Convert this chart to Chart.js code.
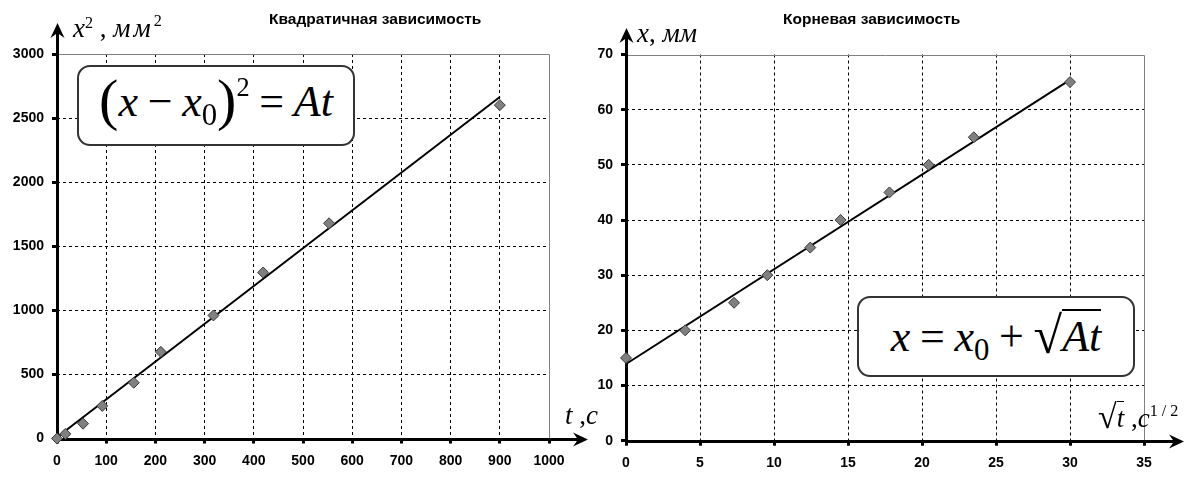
<!DOCTYPE html>
<html lang="ru">
<head>
<meta charset="utf-8">
<title>Квадратичная и корневая зависимость</title>
<script src="https://cdn.jsdelivr.net/npm/chart.js@4.4.0/dist/chart.umd.min.js"></script>
<style>
  html, body { margin: 0; padding: 0; background: #fff; }
  #page { position: relative; width: 1201px; height: 483px; overflow: hidden; }
  .panel { position: absolute; top: 0; height: 483px; }
  .title { position: absolute; font: bold 15.5px "Liberation Sans", Arial, sans-serif; line-height: 18px; white-space: nowrap; color: #000; }
  .lbl { position: absolute; font-family: "Liberation Serif", "Times New Roman", serif; font-size: 27px; line-height: 27px; white-space: nowrap; }
  .sup { position: relative; top: -0.55em; font-size: 0.6em; font-style: normal; }
  .sub { position: relative; top: 0.3em; font-size: 0.7em; font-style: normal; }
  .wide { letter-spacing: 3px; }
  .formula { position: absolute; box-sizing: border-box; width: 278px; height: 81px; border: 2px solid #333; border-radius: 13px; background: #fff;
             font-family: "Liberation Serif", "Times New Roman", serif; font-size: 44px; line-height: 44px; white-space: nowrap; text-align: center; }
  .op { margin: 0 0.22em; }
  .big { font-size: 58px; line-height: 0; position: relative; top: 3px; }
  .rad { font-size: 52px; line-height: 0; position: relative; top: 2px; }
  .ol { border-top: 2px solid #000; padding-top: 1px; }
  .lbl .rad { font-size: 34px; top: 1px; }
  .lbl .ol { border-top-width: 1px; padding-top: 1px; }
</style>
</head>
<body>
<div id="page">
  <div class="panel" style="left:0;width:600px"><canvas id="quadChart"></canvas></div>
  <div class="panel" style="left:580px;width:621px"><canvas id="rootChart"></canvas></div>

  <div class="title" style="left:269px;top:10px">Квадратичная зависимость</div>
  <div class="title" style="left:783px;top:10px">Корневая зависимость</div>

  <div class="lbl" style="left:73px;top:15px"><i>x</i><span class="sup">2</span> , <i class="wide">мм</i><span class="sup" style="top:-0.7em">2</span></div>
  <div class="lbl" style="left:565px;top:402px"><i>t</i> ,<i>c</i></div>
  <div class="lbl" style="left:637px;top:20px"><i>x</i>, <i>мм</i></div>
  <div class="lbl" style="left:1098px;top:405px"><span class="rad">√</span><span class="ol"><i>t</i></span> ,<i>c</i><span class="sup" style="top:-0.7em">1 / 2</span></div>

  <div class="formula" style="left:77px;top:65px;padding-top:13px">
    <span class="big">(</span><i>x</i><span class="op">−</span><i>x</i><span class="sub">0</span><span class="big">)</span><span class="sup" style="top:-0.75em">2</span><span class="op">=</span><i>At</i>
  </div>
  <div class="formula" style="left:857px;top:296px;padding-top:17px">
    <i>x</i><span class="op">=</span><i>x</i><span class="sub">0</span><span class="op">+</span><span class="rad">√</span><span class="ol"><i>At</i></span>
  </div>
</div>

<script>
// Квадратичная зависимость: t, c  ->  (x - x0)^2, мм^2
const quadT = [0, 17, 53, 92, 156, 211, 318, 419, 553, 900];
const quadX2 = [0, 36, 116, 254, 435, 676, 960, 1295, 1679, 2601];
const quadFitT = [0, 900];
const quadFitX2 = [10, 2664];

// Корневая зависимость: sqrt(t), c^1/2  ->  x, мм
const rootSqrtT = [0, 4, 7.3, 9.55, 12.45, 14.5, 17.8, 20.45, 23.5, 30];
const rootX = [15, 20, 25, 30, 35, 40, 45, 50, 55, 65];
const rootFitT = [0, 30];
const rootFitX = [13.9, 65.4];

const quadTicksX = { min: 0, max: 1000, step: 100 };
const quadTicksY = { min: 0, max: 3000, step: 500 };
const rootTicksX = { min: 0, max: 35, step: 5 };
const rootTicksY = { min: 0, max: 70, step: 10 };

const toPoints = (xs, ys) => xs.map((v, i) => ({ x: v, y: ys[i] }));

// axes with arrows and the grey frame of the plot area
const axesArrows = {
    id: 'axesArrows',
    beforeDatasetsDraw(chart, args, opts) {
        const { ctx, chartArea: a, scales: { x, y } } = chart;
        const x0 = Math.round(x.getPixelForValue(0));
        const y0 = Math.round(y.getPixelForValue(0));
        ctx.save();
        ctx.strokeStyle = '#808080';
        ctx.lineWidth = 1;
        ctx.beginPath();
        ctx.moveTo(x0, Math.round(a.top) + 0.5);
        ctx.lineTo(Math.round(a.right) + 0.5, Math.round(a.top) + 0.5);
        ctx.lineTo(Math.round(a.right) + 0.5, y0);
        ctx.stroke();

        ctx.strokeStyle = '#000';
        ctx.fillStyle = '#000';
        ctx.lineWidth = 3;
        ctx.beginPath();
        ctx.moveTo(x0, y0 + 0.5);
        ctx.lineTo(opts.xTip - 6, y0 + 0.5);
        ctx.moveTo(x0 + 0.5, y0 + 2);
        ctx.lineTo(x0 + 0.5, opts.yTip + 6);
        ctx.stroke();

        // x arrow
        ctx.beginPath();
        ctx.moveTo(opts.xTip, y0 + 0.5);
        ctx.lineTo(opts.xTip - 15, y0 - 6.5);
        ctx.lineTo(opts.xTip - 10, y0 + 0.5);
        ctx.lineTo(opts.xTip - 15, y0 + 7.5);
        ctx.closePath();
        ctx.fill();
        // y arrow
        ctx.beginPath();
        ctx.moveTo(x0 + 0.5, opts.yTip);
        ctx.lineTo(x0 - 6.5, opts.yTip + 15);
        ctx.lineTo(x0 + 0.5, opts.yTip + 10);
        ctx.lineTo(x0 + 7.5, opts.yTip + 15);
        ctx.closePath();
        ctx.fill();
        ctx.restore();
    }
};

function makeScale(t, width, height, pad) {
    const s = {
        type: 'linear',
        min: t.min,
        max: t.max,
        border: { display: false, dash: [3, 3] },
        grid: {
            color: c => (c.tick && (c.tick.value === t.max || c.tick.value === t.min)) ? 'rgba(0,0,0,0)' : '#000',
            lineWidth: 1,
            tickColor: '#000',
            tickWidth: 3,
            tickLength: 5
        },
        ticks: {
            stepSize: t.step,
            padding: pad,
            color: '#000',
            callback: v => String(v),
            font: { family: '"Liberation Sans", Arial, sans-serif', weight: 'bold', size: 14 }
        }
    };
    if (width) s.afterFit = sc => { sc.width = width; };
    if (height) s.afterFit = sc => { sc.height = height; };
    return s;
}

function makeChart(id, pts, fit, tx, ty, layout) {
    return new Chart(document.getElementById(id), {
        type: 'scatter',
        data: {
            datasets: [{
                data: pts,
                clip: false,
                pointStyle: 'rectRot',
                pointRadius: 5.5,
                pointBackgroundColor: '#808080',
                pointBorderColor: '#3a3a3a',
                pointBorderWidth: 1
            }, {
                data: fit,
                clip: false,
                showLine: true,
                pointRadius: 0,
                borderColor: '#000',
                borderWidth: 2
            }]
        },
        options: {
            responsive: true,
            maintainAspectRatio: false,
            animation: false,
            events: [],
            layout: { padding: layout.padding },
            plugins: {
                legend: { display: false },
                tooltip: { enabled: false },
                title: { display: false },
                axesArrows: { xTip: layout.xTip, yTip: layout.yTip }
            },
            scales: {
                x: makeScale(tx, 0, layout.xHeight, 9),
                y: makeScale(ty, layout.yWidth, 0, 8)
            }
        },
        plugins: [axesArrows]
    });
}

makeChart('quadChart', toPoints(quadT, quadX2), toPoints(quadFitT, quadFitX2), quadTicksX, quadTicksY, {
    padding: { top: 54, right: 51, left: 0, bottom: 0 },
    yWidth: 57, xHeight: 44.5, xTip: 588, yTip: 23
});

makeChart('rootChart', toPoints(rootSqrtT, rootX), toPoints(rootFitT, rootFitX), rootTicksX, rootTicksY, {
    padding: { top: 54.5, right: 57, left: 0, bottom: 0 },
    yWidth: 46, xHeight: 42.3, xTip: 604, yTip: 28
});
</script>
</body>
</html>
